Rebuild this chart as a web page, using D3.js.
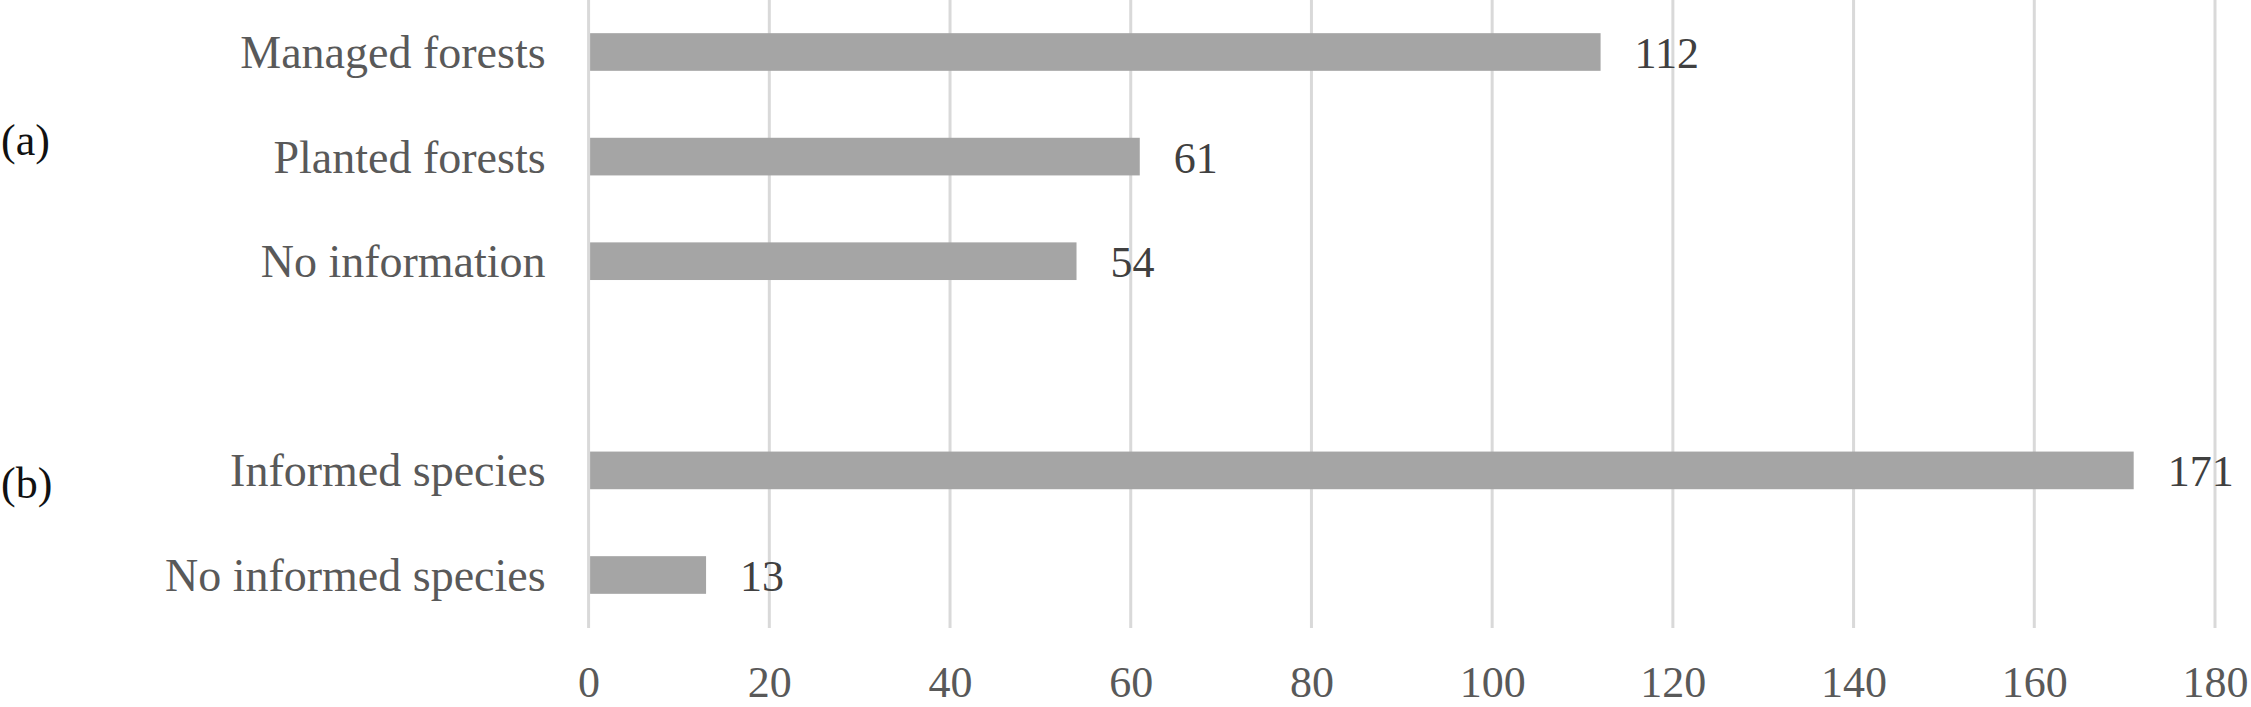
<!DOCTYPE html>
<html>
<head>
<meta charset="utf-8">
<script src="https://cdn.jsdelivr.net/npm/d3@7"></script>
<style>
  body { margin: 0; background: #fff; }
  text { font-family: "Liberation Serif", "Times New Roman", serif; }
</style>
</head>
<body>
<div id="chart"></div>
<script>
// categories top to bottom, "" is the empty spacer row between the two groups
var categories = ["Managed forests", "Planted forests", "No information", "", "Informed species", "No informed species"];
var values = [112, 61, 54, null, 171, 13];
var groupLabels = ["(a)", "(b)"];
var xTicks = [0, 20, 40, 60, 80, 100, 120, 140, 160, 180];

function init(){

  var W = 2251, H = 707;
  var axisLeft = 588.6, axisRight = 2215;

  var dataset = categories.map(function(c, i){
    return {key: i, name: c, value: values[i]};
  });

  var xScale = d3.scaleLinear()
    .domain([0, 180])
    .range([axisLeft, axisRight]);

  var yScale = d3.scaleBand()
    .domain(dataset.map(function(d){ return d.key; }))
    .range([-0.3, 627.3])
    .paddingInner(0.64)
    .paddingOuter(0.32);

  var svg = d3.select("#chart")
    .append("svg")
      .attr("width", W)
      .attr("height", H);

  //vertical gridlines
  svg.append("g")
    .selectAll("line")
    .data(xTicks)
    .enter()
    .append("line")
      .attr("x1", function(d){ return xScale(d); })
      .attr("x2", function(d){ return xScale(d); })
      .attr("y1", 0)
      .attr("y2", 628)
      .attr("stroke", "#d9d9d9")
      .attr("stroke-width", 3);

  //x-axis tick labels
  var xAxis = d3.axisBottom(xScale)
    .tickValues(xTicks)
    .tickSize(0)
    .tickPadding(0);

  var gx = svg.append("g")
    .attr("transform", "translate(0,697)")
    .call(xAxis);
  gx.select(".domain").remove();
  gx.selectAll("text")
    .attr("dy", 0)
    .attr("y", 0)
    .style("font-family", "'Liberation Serif', serif")
    .style("font-size", "44px")
    .attr("fill", "#595959");

  var rows = dataset.filter(function(d){ return d.value !== null; });

  //bars
  svg.append("g")
    .selectAll("rect")
    .data(rows)
    .enter()
    .append("rect")
      .attr("x", xScale(0) + 1.5)
      .attr("y", function(d){ return yScale(d.key); })
      .attr("width", function(d){ return xScale(d.value) - xScale(0) - 1.5; })
      .attr("height", yScale.bandwidth())
      .attr("fill", "#a5a5a5");

  //value labels
  svg.append("g")
    .selectAll("text")
    .data(rows)
    .enter()
    .append("text")
      .attr("x", function(d){ return xScale(d.value) + 34; })
      .attr("y", function(d){ return yScale(d.key) + yScale.bandwidth() / 2 + 16; })
      .style("font-size", "44px")
      .attr("fill", "#404040")
      .text(function(d){ return d.value; });

  //category labels
  svg.append("g")
    .selectAll("text")
    .data(rows)
    .enter()
    .append("text")
      .attr("x", axisLeft - 43)
      .attr("y", function(d){ return yScale(d.key) + yScale.bandwidth() / 2 + 16; })
      .attr("text-anchor", "end")
      .style("font-size", "46px")
      .attr("fill", "#595959")
      .text(function(d){ return d.name; });

  //group labels (a) and (b)
  svg.append("g")
    .selectAll("text")
    .data(groupLabels)
    .enter()
    .append("text")
      .attr("x", 1)
      .attr("y", function(d, i){ return i === 0 ? 155 : 498; })
      .style("font-size", "44px")
      .attr("fill", "#111")
      .text(function(d){ return d; });
}

window.onload = init;
</script>
</body>
</html>
